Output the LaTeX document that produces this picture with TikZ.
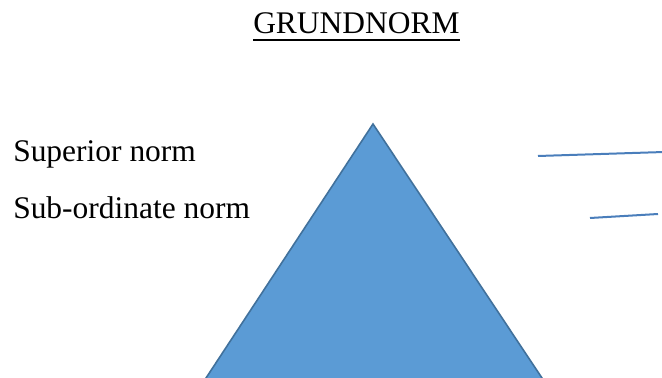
\documentclass[tikz,border=0pt]{standalone}
\usepackage{fontspec}
\setmainfont{Liberation Serif}
\definecolor{trifill}{HTML}{5B9BD5}
\definecolor{tristroke}{HTML}{41719C}
\definecolor{linecol}{HTML}{4A7EBB}
\tikzset{
  lbl/.style={anchor=base west, inner sep=0pt, font=\fontsize{23.6}{28}\selectfont},
  pointer/.style={draw=linecol, line width=1.5pt},
}
\begin{document}
\begin{tikzpicture}[x=0.75pt,y=-0.75pt]
\useasboundingbox (0,0) rectangle (662,378);
\clip (0,0) rectangle (662,378);
\node[lbl] (title) at (253,34) {GRUNDNORM};
\draw[line width=1.5pt] ([yshift=-4.2pt]title.base west) -- ([yshift=-4.2pt]title.base east);
\node[lbl] (sup) at (13,162) {Superior norm};
\node[lbl] (sub) at (13,219) {Sub-ordinate norm};
\fill[trifill, draw=tristroke, line width=1.2pt] (373,124) -- (204.7,380) -- (543.3,380) -- cycle;
\coordinate (a1) at (538,156);
\coordinate (a2) at (664,152);
\coordinate (b1) at (590,218);
\coordinate (b2) at (658,214);
\draw[pointer] (a1) -- (a2);
\draw[pointer] (b1) -- (b2);
\end{tikzpicture}
\end{document}
